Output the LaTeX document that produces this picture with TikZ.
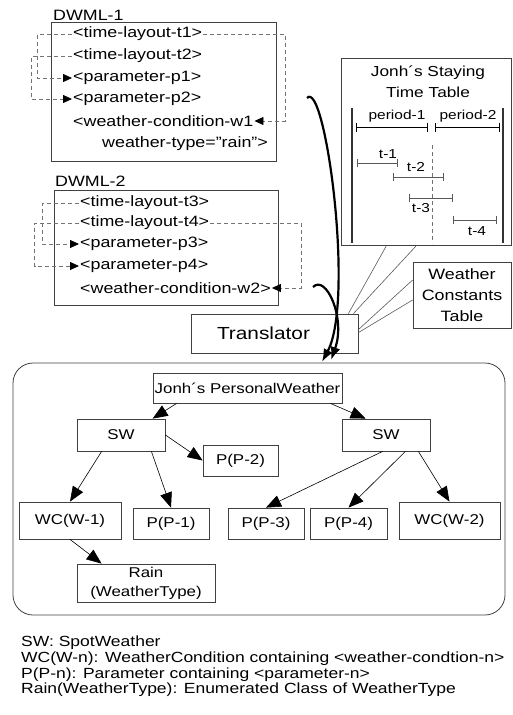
\documentclass[tikz,border=0pt]{standalone}
\usepackage{fontspec}
\setmainfont{Liberation Sans}[FakeStretch=1.19]
\usetikzlibrary{arrows.meta}

\tikzset{
  frame/.style={draw=black!75, line width=0.8pt, inner sep=0pt},
  xmltext/.style={anchor=west, inner sep=1pt, font=\fontsize{15}{16}\selectfont},
  xmllink/.style={draw=black!55, line width=0.8pt, dash pattern=on 4pt off 3pt,
    -{Triangle[length=9pt,width=8pt,color=black]}},
  cls/.style={frame, font=\fontsize{14.2}{16}\selectfont, align=center},
  assoc/.style={line width=0.6pt, -{Triangle[length=15pt,width=12pt]}},
  flow/.style={line width=2.2pt, -{Latex[length=13pt,width=10pt]}},
  refline/.style={draw=black!65, line width=0.6pt},
  span/.style={line width=0.8pt, {Bar[width=9pt]}-{Bar[width=9pt]}},
  slot/.style={draw=black!65, line width=0.9pt, {Bar[width=8pt]}-{Bar[width=8pt]}},
  tag/.style={inner sep=0pt, font=\fontsize{13}{14}\selectfont},
  legend/.style={anchor=base west, inner sep=0pt, font=\fontsize{14.7}{16}\selectfont},
}

\begin{document}
\begin{tikzpicture}[x=1pt, y=-1pt]
  \useasboundingbox (0,0) rectangle (512,715);

  % first document
  \node[anchor=base west, inner sep=0pt, font=\fontsize{15}{16}\selectfont] (nameA) at (53,20) {DWML-1};
  \node[frame, minimum width=225, minimum height=139] (dwmlA) at (163.5,91.5) {};
  \node[xmltext] (t1) at (72,34) {<time-layout-t1>};
  \node[xmltext] (t2) at (72,56) {<time-layout-t2>};
  \node[xmltext] (p1) at (72,78) {<parameter-p1>};
  \node[xmltext] (p2) at (72,99) {<parameter-p2>};
  \node[xmltext] (w1) at (72,121) {<weather-condition-w1};
  \node[xmltext] (wt1) at (101,144) {weather-type=”rain”>};
  \draw[xmllink] (t1.west) -- ([xshift=-13pt]t1.west -| dwmlA.west) |- (p1.west);
  \draw[xmllink] (t2.west) -- ([xshift=-19pt]t2.west -| dwmlA.west) |- (p2.west);
  \draw[xmllink] (t1.east) -- ([xshift=9pt]t1.east -| dwmlA.east) |- (w1.east);

  % second document
  \node[anchor=base west, inner sep=0pt, font=\fontsize{15}{16}\selectfont] (nameB) at (55,186) {DWML-2};
  \node[frame, minimum width=224, minimum height=115] (dwmlB) at (166,247.5) {};
  \node[xmltext] (t3) at (79,203) {<time-layout-t3>};
  \node[xmltext] (t4) at (79,223) {<time-layout-t4>};
  \node[xmltext] (p3) at (79,244) {<parameter-p3>};
  \node[xmltext] (p4) at (79,266) {<parameter-p4>};
  \node[xmltext] (w2) at (79,288) {<weather-condition-w2>};
  \draw[xmllink] (t3.west) -- ([xshift=-11pt]t3.west -| dwmlB.west) |- (p3.west);
  \draw[xmllink] (t4.west) -- ([xshift=-19pt]t4.west -| dwmlB.west) |- (p4.west);
  \draw[xmllink] (t4.east) -- ([xshift=23pt]t4.east -| dwmlB.east) |- (w2.east);

  % staying time table
  \node[frame, minimum width=170, minimum height=187] (ttable) at (426,151.5) {};
  \node[tag, font=\fontsize{14.5}{16}\selectfont] (ttitleA) at (428,73) {Jonh´s Staying};
  \node[tag, font=\fontsize{14.5}{16}\selectfont] (ttitleB) at (428,92) {Time Table};
  \draw[line width=2pt, black!80] (352,108) -- (352,243);
  \draw[line width=2pt, black!80] (503,108) -- (503,243);
  \draw[draw=black!55, line width=0.8pt, dash pattern=on 4pt off 3pt] (432,145) -- (432,243);
  \draw[span] (356,127) -- (428,127);
  \draw[span] (435,127) -- (500,127);
  \node[tag] (per1) at (397,116) {period-1};
  \node[tag] (per2) at (468,116) {period-2};
  \draw[slot] (357,163) -- (398,163);
  \draw[slot] (393,177) -- (444,177);
  \draw[slot] (409,198) -- (453,198);
  \draw[slot] (453,220) -- (497,220);
  \node[tag] (lt1) at (388,154) {t-1};
  \node[tag] (lt2) at (416,167) {t-2};
  \node[tag] (lt3) at (421,208) {t-3};
  \node[tag] (lt4) at (477,231) {t-4};

  % constants and translator
  \node[frame, minimum width=98, minimum height=66, align=center,
        font=\fontsize{15}{21}\selectfont] (wct) at (462,295) {Weather\\Constants\\Table};
  \node[frame, minimum width=167, minimum height=39,
        font=\fontsize{17.5}{21}\selectfont] (translator) at (274.5,333.5) {Translator\hspace*{22pt}};
  \draw[refline] ([xshift=-10pt]translator.north east) -- ([xshift=46pt]ttable.south west);
  \draw[refline] ([xshift=-5pt]translator.north east) -- ([xshift=76pt]ttable.south west);
  \draw[refline] ([yshift=-16pt]translator.north east) -- ([yshift=15pt]wct.west);
  \draw[refline] ([yshift=-19pt]translator.north east) -- ([yshift=-5pt]wct.west);

  % personal weather object model
  \node[frame, minimum width=492, minimum height=252, rounded corners=20pt] (model) at (259,489) {};
  \node[cls, minimum width=189, minimum height=30] (pw) at (247.5,388) {Jonh´s PersonalWeather};
  \node[cls, minimum width=88, minimum height=32] (swA) at (121,435) {SW};
  \node[cls, minimum width=88, minimum height=32] (swB) at (386,435) {SW};
  \node[cls, minimum width=75, minimum height=31] (pp2) at (240.5,460.5) {P(P-2)};
  \node[cls, minimum width=102, minimum height=37] (wcA) at (70,520.5) {WC(W-1)};
  \node[cls, minimum width=76, minimum height=31] (pp1) at (171,523.5) {P(P-1)};
  \node[cls, minimum width=76, minimum height=31] (pp3) at (266,523.5) {P(P-3)};
  \node[cls, minimum width=77, minimum height=31] (pp4) at (348.5,523.5) {P(P-4)};
  \node[cls, minimum width=101, minimum height=37] (wcB) at (449.5,520.5) {WC(W-2)};
  \node[cls, minimum width=138, minimum height=38, font=\fontsize{14.2}{19}\selectfont] (rain) at (146,583) {Rain\\(WeatherType)};
  \draw[assoc] ([xshift=24pt]pw.south west) -- ([xshift=76pt]swA.north west);
  \draw[assoc] ([xshift=-12pt]pw.south east) -- ([xshift=24pt]swB.north west);
  \draw[assoc] (swA.east) -- (pp2.west);
  \draw[assoc] ([xshift=25pt]swA.south west) -- (wcA.north);
  \draw[assoc] ([xshift=-14pt]swA.south east) -- (pp1.north);
  \draw[assoc] ([xshift=41pt]swB.south west) -- (pp3.north);
  \draw[assoc] ([xshift=-25pt]swB.south east) -- (pp4.north);
  \draw[assoc] ([xshift=-12pt]swB.south east) -- (wcB.north);
  \draw[assoc] (wcA.south) -- ([xshift=25pt]rain.north west);

  % documents pass through the translator
  \coordinate (srcA) at (307,98);
  \coordinate (srcB) at (313,287);
  \coordinate (dstA) at (322,362);
  \coordinate (dstB) at (331,360);
  \draw[flow] (srcA) .. controls (325,78) and (355,300) .. (dstA);
  \draw[flow] (srcB) .. controls (326,274) and (346,318) .. (dstB);

  % legend
  \node[legend] (leg1) at (21,646) {SW: SpotWeather};
  \node[legend] (leg2) at (21,662) {WC(W-n): WeatherCondition containing <weather-condtion-n>};
  \node[legend] (leg3) at (21,678) {P(P-n): Parameter containing <parameter-n>};
  \node[legend] (leg4) at (21,693) {Rain(WeatherType): Enumerated Class of WeatherType};
\end{tikzpicture}
\end{document}
